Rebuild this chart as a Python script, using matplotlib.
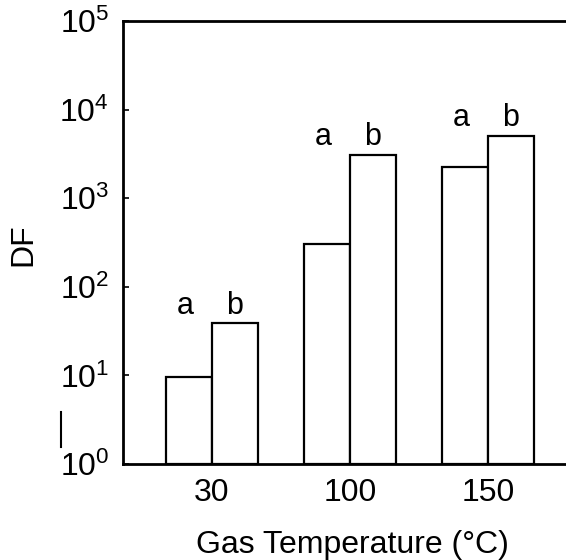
import matplotlib
matplotlib.use("Agg")
import matplotlib.pyplot as plt
from matplotlib.lines import Line2D
import numpy as np

plt.rcParams.update({
    "font.family": ["Liberation Sans", "DejaVu Sans"],
    "mathtext.default": "regular",
})

# data
temps = ["30", "100", "150"]
df_a = [8.6, 300, 2250]
df_b = [38, 3100, 5100]
bar_tags = ["a", "b"]
yticks = [1, 10, 100, 1000, 10000, 100000]
ytick_labels = [r"$\mathregular{10^{%d}}$" % i for i in range(6)]

fig = plt.figure(figsize=(5.66, 5.6), dpi=100)
ax = fig.add_axes([123 / 566, 1 - 464 / 560, 1 - 123 / 566, (464 - 21) / 560])

x = np.arange(len(temps))
w = 1 / 3
ax.bar(x - w / 2, df_a, width=w, bottom=1, color="white", edgecolor="black", linewidth=1.6)
ax.bar(x + w / 2, df_b, width=w, bottom=1, color="white", edgecolor="black", linewidth=1.6)

ax.set_yscale("log")
ax.set_ylim(1, 1e5)
ax.set_xlim(-0.645, 2.565)

for i in range(len(temps)):
    for xo, tag, dx in [(x[i] - w / 2, bar_tags[0], -4), (x[i] + w / 2, bar_tags[1], 0)]:
        ax.annotate(tag, xy=(xo, df_b[i]), xytext=(dx * 0.72, 7), textcoords="offset points",
                    ha="center", va="baseline", fontsize=22)

ax.set_yticks(yticks)
ax.set_yticklabels(ytick_labels)
ax.minorticks_off()
ax.set_xticks(x)
ax.set_xticklabels(temps)
ax.tick_params(axis="y", direction="in", length=4, width=1.2, labelsize=23, pad=10)
ax.tick_params(axis="x", length=0, labelsize=23, pad=10)

for s in ["left", "top", "bottom"]:
    ax.spines[s].set_linewidth(2)
ax.spines["right"].set_visible(False)

ax.set_xlabel("Gas Temperature (°C)", fontsize=23)
ax.xaxis.set_label_coords(0.517, -0.15)
ax.set_ylabel("DF", fontsize=23)
ax.yaxis.set_label_coords(-0.19, 0.495)

# small stray stroke next to the 10^0 label
fig.add_artist(Line2D([61 / 566, 61 / 566], [1 - 412 / 560, 1 - 447 / 560],
                      transform=fig.transFigure, color="black", linewidth=1.5))

fig.savefig("out.png", dpi=100)
